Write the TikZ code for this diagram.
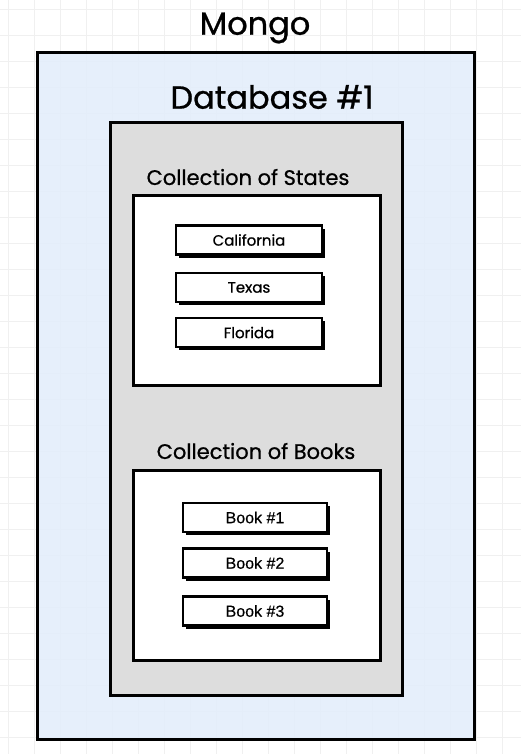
\documentclass[tikz,border=0pt]{standalone}
\usepackage{fontspec}
\setmainfont{Poppins}[FakeBold=0.8]
\newfontfamily\bookfont{Liberation Sans}[FakeBold=0.4]
\usetikzlibrary{shadows}
\definecolor{mongoblue}{HTML}{E3EDFB}
\definecolor{dbgray}{HTML}{DDDDDD}
\definecolor{gridgray}{HTML}{F0F0F0}
\tikzset{
  boxline/.style={draw,line width=3pt,inner sep=0pt},
  mongobox/.style={boxline,fill=mongoblue,fill opacity=0.9,draw opacity=1,minimum width=437pt,minimum height=686pt},
  dbbox/.style={boxline,fill=dbgray,minimum width=292pt,minimum height=572pt},
  collbox/.style={boxline,fill=white,minimum width=247pt,minimum height=190pt},
  docbox/.style={boxline,line width=2.6pt,fill=white,minimum height=29pt,
    drop shadow={shadow xshift=3pt,shadow yshift=-3pt,fill=black,opacity=1}},
  title/.style={font=\fontsize{32}{36}\selectfont},
  subtitle/.style={font=\fontsize{21}{24}\selectfont},
}
\begin{document}
\begin{tikzpicture}[x=1pt,y=-1pt]
\useasboundingbox (0,0) rectangle (521,754);
% grid
\foreach \gx in {8,34,...,520} \draw[gridgray,line width=0.8pt] (\gx,0) -- (\gx,754);
\foreach \gy in {9,35,...,754} \draw[gridgray,line width=0.8pt] (0,\gy) -- (521,\gy);
% boxes
\node[mongobox] (mongo) at (255.5,396) {};
\node[dbbox] (db) at (256,409) {};
\node[collbox] (states) at (256.5,290) {};
\node[collbox] (books) at (256.5,565) {};
% titles
\node[title] (mongolbl) at (255,28) {Mongo};
\node[title] (dblbl) at (272,97) {Database \#1};
\node[subtitle] (stateslbl) at (248,177) {Collection of States};
\node[subtitle] (bookslbl) at (256,451) {Collection of Books};
% documents
\node[docbox,minimum width=146pt,font=\fontsize{15}{18}\selectfont] (cal) at (249,240) {California};
\node[docbox,minimum width=146pt,font=\fontsize{15}{18}\selectfont] (tex) at (249,287.5) {Texas};
\node[docbox,minimum width=146pt,font=\fontsize{15}{18}\selectfont] (flo) at (249,332.5) {Florida};
\node[docbox,minimum width=144pt,font=\bookfont\fontsize{16}{18}\selectfont] (book1) at (255,517.5) {Book \#1};
\node[docbox,minimum width=144pt,font=\bookfont\fontsize{16}{18}\selectfont] (book2) at (255,563) {Book \#2};
\node[docbox,minimum width=144pt,font=\bookfont\fontsize{16}{18}\selectfont] (book3) at (255,611) {Book \#3};
\end{tikzpicture}
\end{document}
